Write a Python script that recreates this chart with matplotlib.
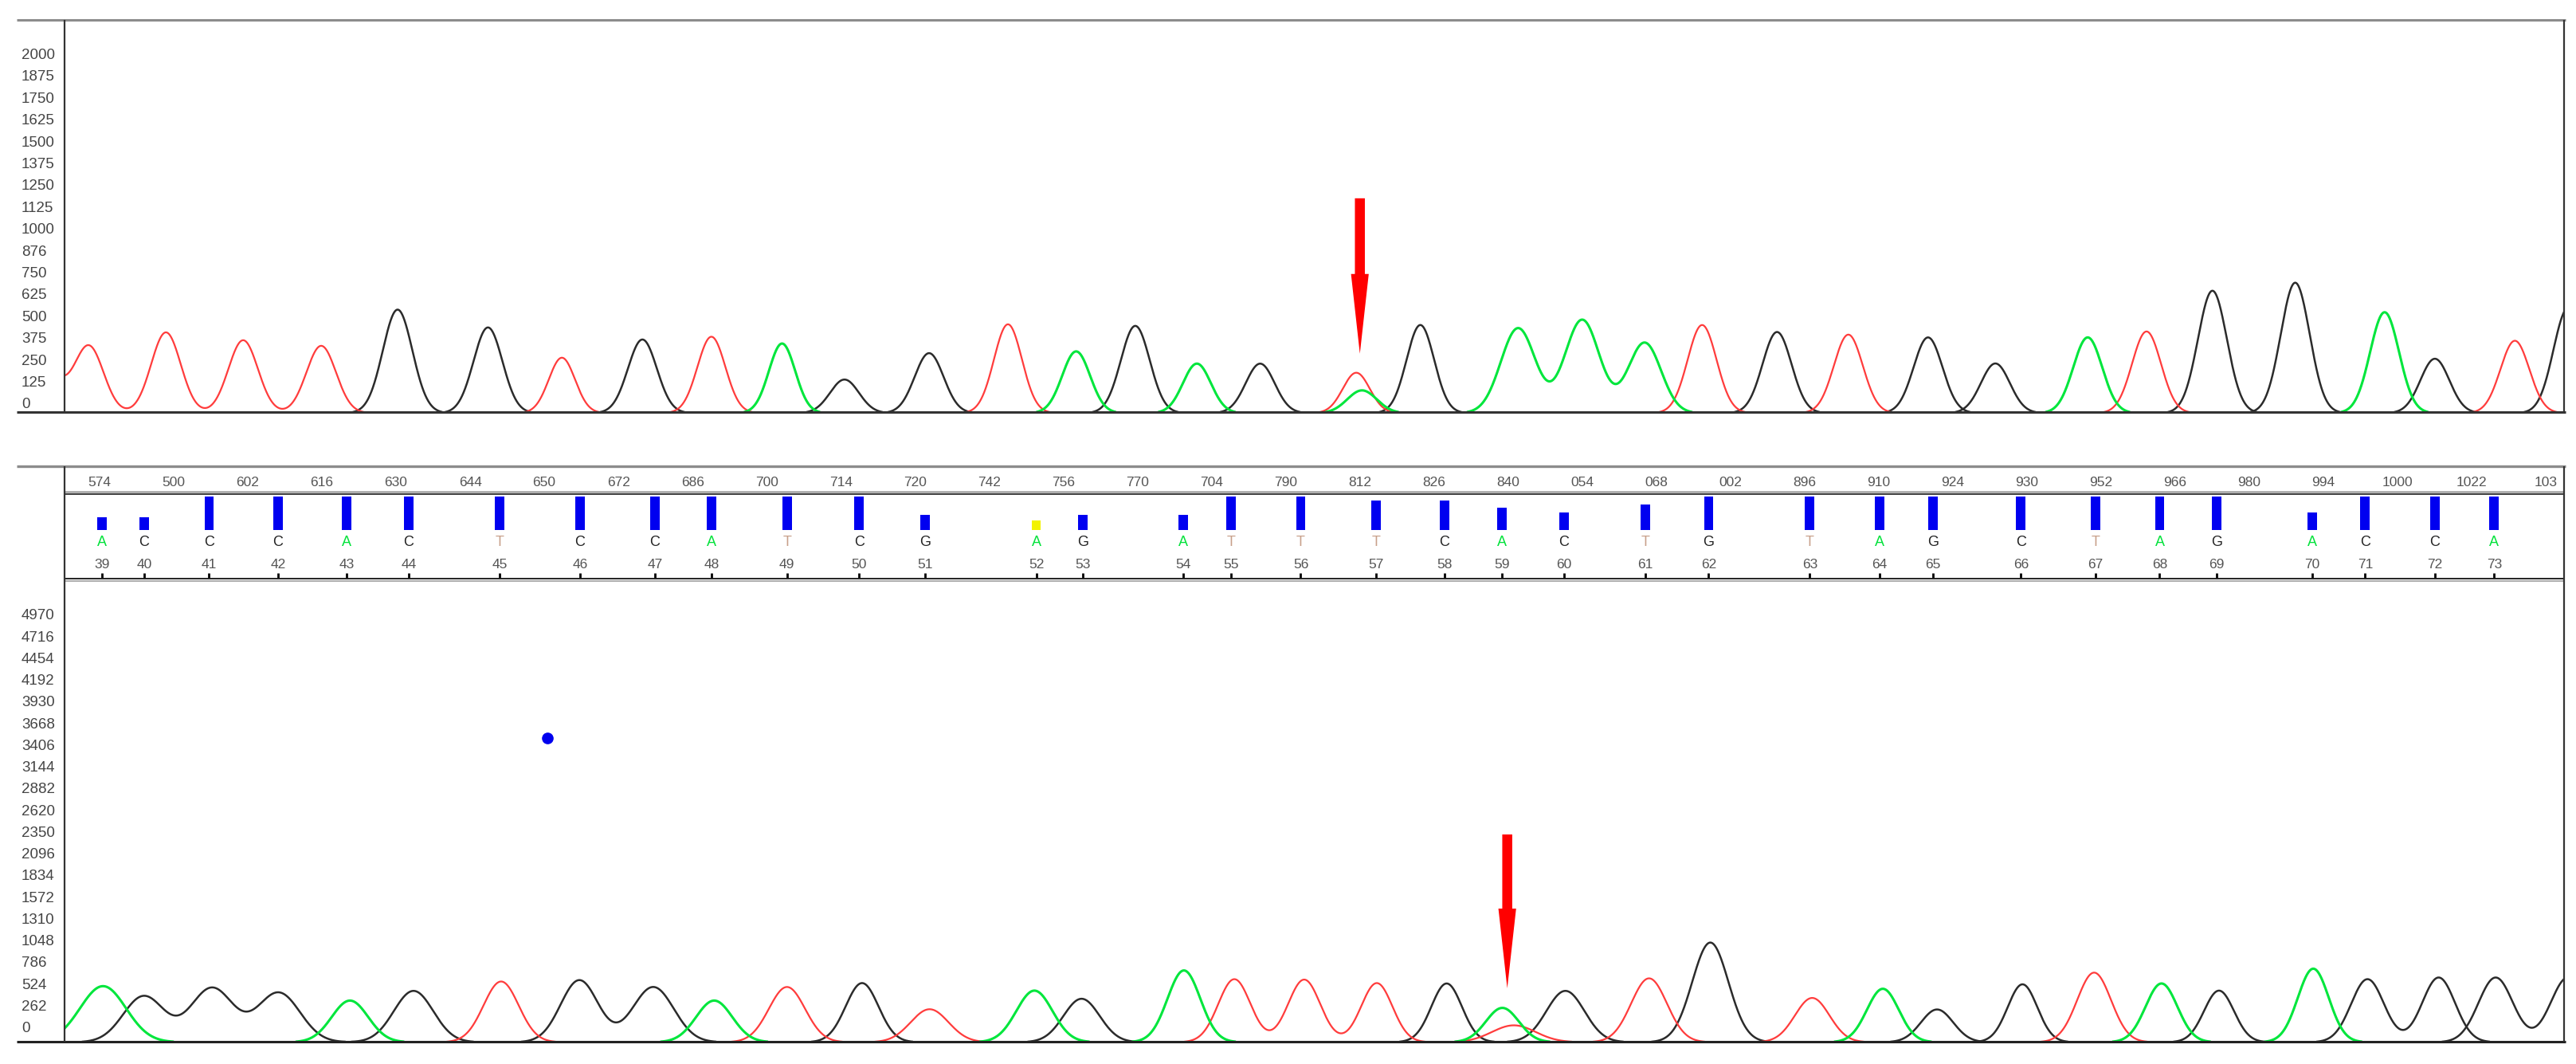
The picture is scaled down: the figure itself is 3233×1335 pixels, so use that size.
import numpy as np
import matplotlib
matplotlib.use("Agg")
import matplotlib.pyplot as plt
from matplotlib.lines import Line2D
from matplotlib.patches import FancyArrowPatch
from matplotlib import transforms

plt.rcParams['font.family'] = ['Liberation Sans', 'DejaVu Sans']

# ---- upper trace: peak positions (scan units), heights and widths ----
top_T_pos = [28, 54, 101, 148, 195.5, 342, 433, 613.5, 825.5, 1036, 1125, 1306.5, 1530.7]
top_T_amp = [250, 385, 462, 417, 385, 317, 437, 508, 231, 504, 449, 467, 414]
top_T_wid = [9, 9, 9, 9, 9, 8, 8.5, 8.5, 8.2, 8.8, 8.8, 8.8, 8.8]
top_A_pos = [476, 655, 728.5, 829, 924, 963, 1001, 1270.7, 1451.4]
top_A_amp = [398, 353, 283, 130, 486, 534, 403, 433, 577]
top_A_wid = [8, 8.5, 8.5, 9, 10.5, 10.5, 10, 8.8, 8.8]
top_C_pos = [242, 391, 565.5, 767, 1081.6, 1173.5, 1346.6, 1482]
top_C_amp = [592, 421, 343, 283, 464, 433, 700, 311]
top_C_wid = [9, 8.8, 8.8, 8.8, 8.8, 8.8, 8.8, 8.8]
top_G_pos = [297, 514, 691, 864.5, 1214.5, 1397, 1563]
top_G_amp = [490, 192, 499, 504, 284, 746, 600]
top_G_wid = [8.8, 8.8, 8.8, 8.4, 8.8, 8.8, 8.8]

# ---- lower trace ----
bot_T_pos = [305, 479, 565.8, 751.3, 793.8, 838, 921.4, 1003.7, 1103, 1274.6]
bot_T_amp = [731, 665, 397, 759, 754, 712, 203, 769, 533, 838]
bot_T_wid = [10.7, 11, 11.5, 9.8, 9.8, 9.5, 13.3, 10.9, 10.5, 10.3]
bot_A_pos = [62.7, 213, 434.7, 629.6, 720.6, 914.4, 1146, 1315.6, 1408]
bot_A_amp = [675, 501, 501, 621, 864, 413, 643, 707, 885]
bot_A_wid = [14, 11.1, 11, 11, 10, 10, 9.7, 9.7, 9.4]
bot_C_pos = [87.5, 129, 169.6, 251.7, 352.6, 397.6, 524.7, 880.5, 952.8, 1231, 1441, 1484.3]
bot_C_amp = [555, 653, 596, 618, 747, 665, 712, 707, 618, 697, 759, 779]
bot_C_wid = [12.5, 13, 13, 12, 11.4, 12.5, 10, 9.3, 11.6, 9, 10, 10]
bot_G_pos = [658.3, 1041, 1179, 1350.6, 1519, 1563]
bot_G_amp = [523, 1200, 394, 621, 779, 780]
bot_G_wid = [11, 11, 9.8, 9.1, 10.5, 10.5]

# ---- y axis labels ----
top_labels = ["0", "125", "250", "375", "500", "625", "750", "876", "1000", "1125",
              "1250", "1375", "1500", "1625", "1750", "1875", "2000"]
bot_labels = ["0", "262", "524", "786", "1048", "1310", "1572", "1834", "2096", "2350",
              "2620", "2882", "3144", "3406", "3668", "3930", "4192", "4454", "4716", "4970"]

# ---- base call strip ----
scan_labels = ["574", "500", "602", "616", "630", "644", "650", "672", "686", "700", "714",
               "720", "742", "756", "770", "704", "790", "812", "826", "840", "054", "068",
               "002", "896", "910", "924", "930", "952", "966", "980", "994", "1000", "1022", "103"]
call_index = list(range(39, 74))
call_base = list("ACCCACTCCATCGAGATTTCACTGTAGCTAGACCA")
call_pos = [62.3, 87.8, 127.3, 169.2, 211, 248.8, 304, 353, 398.6, 433.3, 479, 523,
            563, 630.7, 658.9, 720.2, 749.5, 791.7, 837.6, 879.1, 914.2, 952, 1001.3,
            1040, 1101.5, 1143.9, 1176.5, 1230.1, 1275.3, 1314.5, 1349.2, 1407.4,
            1439.6, 1482, 1518.1]
call_quality = [0.38, 0.38, 1, 1, 1, 1, 1, 1, 1, 1, 1, 1, 0.46, 0.28, 0.46, 0.46, 1, 1,
                0.88, 0.88, 0.66, 0.52, 0.76, 1, 1, 1, 1, 1, 1, 1, 1, 0.52, 1, 1, 1]
low_quality_calls = [52]

# ---- markers ----
top_arrow = (827.7, 1223, 334)     # x, tail, tip
bot_arrow = (917.4, 2496, 643)
dot_point = (333, 3655)

W, H = 3233, 1335
XL = (81 / 2.062, 3218 / 2.062)
base_colors = {"A": "#00e23a", "C": "#222222", "G": "#222222", "T": "#c8a08a"}
FLOOR = 6

fig = plt.figure(figsize=(W / 100, H / 100), dpi=100)


def fx(px):
    return px / W


def fy(py):
    return 1 - py / H


def hline(y, x0, x1, color, lw):
    fig.add_artist(Line2D([fx(x0), fx(x1)], [fy(y), fy(y)], color=color, lw=lw,
                          transform=fig.transFigure, solid_capstyle='butt'))


def vline(x, y0, y1, color, lw):
    fig.add_artist(Line2D([fx(x), fx(x)], [fy(y0), fy(y1)], color=color, lw=lw,
                          transform=fig.transFigure, solid_capstyle='butt'))


def panel(top, bottom):
    ax = fig.add_axes([fx(81), fy(bottom), fx(3218 - 81), (bottom - top) / H])
    ax.set_xlim(*XL)
    ax.axis('off')
    return ax


xs = np.linspace(0, 1600, 16001)


def draw_channel(ax, pos, amp, wid, color, lw):
    y = np.zeros_like(xs)
    for p, a, w in zip(pos, amp, wid):
        y += a * np.exp(-0.5 * ((xs - p) / w) ** 2)
    y = y - FLOOR
    up = y > 0
    keep = up | np.roll(up, 1) | np.roll(up, -1)
    y = np.where(keep, np.maximum(y, 0), np.nan)
    ax.plot(xs, y, color=color, lw=lw, solid_capstyle='butt')


def y_labels(ax, labels, step, offset_px):
    trans = transforms.blended_transform_factory(fig.transFigure, ax.transData) + \
        transforms.ScaledTranslation(0, offset_px / 100, fig.dpi_scale_trans)
    for i, s in enumerate(labels):
        ax.text(fx(27), i * step, s, transform=trans, ha='left', va='center',
                fontsize=13.5, color='#444444', clip_on=False)


def arrow(ax, spec):
    x, tail, tip = spec
    ax.add_patch(FancyArrowPatch((x, tail), (x, tip), mutation_scale=1, lw=0,
                                 arrowstyle="simple,head_length=72,head_width=16,tail_width=9",
                                 color='#ff0000', shrinkA=0, shrinkB=0, zorder=5))


# upper panel
ax1 = panel(25, 517)
ax1.set_ylim(0, 492 * 4.56)
draw_channel(ax1, top_C_pos, top_C_amp, top_C_wid, '#2b2b2b', 1.8)
draw_channel(ax1, top_G_pos, top_G_amp, top_G_wid, '#2b2b2b', 1.8)
draw_channel(ax1, top_T_pos, top_T_amp, top_T_wid, '#ff3c3c', 1.6)
draw_channel(ax1, top_A_pos, top_A_amp, top_A_wid, '#00e63c', 2.2)
y_labels(ax1, top_labels, 125, 9)
arrow(ax1, top_arrow)

# lower panel
ax3 = panel(727, 1307)
ax3.set_ylim(0, 580 * 9.6)
draw_channel(ax3, bot_C_pos, bot_C_amp, bot_C_wid, '#2b2b2b', 1.8)
draw_channel(ax3, bot_G_pos, bot_G_amp, bot_G_wid, '#2b2b2b', 1.8)
draw_channel(ax3, bot_T_pos, bot_T_amp, bot_T_wid, '#ff3c3c', 1.6)
draw_channel(ax3, bot_A_pos, bot_A_amp, bot_A_wid, '#00e63c', 2.2)
y_labels(ax3, bot_labels, 4970 / 19, 16.5)
arrow(ax3, bot_arrow)
ax3.plot([dot_point[0]], [dot_point[1]], 'o', color='#0000ee', ms=9.5)

# base call strip
ax2 = panel(585, 727)
ax2.set_ylim(0, 1)
step = (1549.3 - 60.6) / (len(scan_labels) - 1)
for i, s in enumerate(scan_labels):
    ax2.text(60.6 + i * step, 0.856, s, ha='center', va='center', fontsize=12.5,
             color='#555555')
bar_cols = ['#f2f200' if n in low_quality_calls else '#0000f0' for n in call_index]
ax2.bar(call_pos, [q * 0.293 for q in call_quality], bottom=0.437, width=5.8,
        color=bar_cols)
for p, b, n in zip(call_pos, call_base, call_index):
    ax2.text(p, 0.329, b, ha='center', va='center', fontsize=13, color=base_colors[b])
    ax2.text(p, 0.130, str(n), ha='center', va='center', fontsize=12.5, color='#555555')
ax2.vlines(call_pos, 0, 0.055, color='black', lw=2)

# frame lines
hline(25, 21, 3220, '#8c8c8c', 2.2)
hline(517, 21, 3220, '#333333', 2.2)
hline(585, 21, 3220, '#8c8c8c', 2.4)
hline(617, 81, 3218, '#aaaaaa', 2.0)
hline(620, 81, 3218, '#222222', 1.2)
hline(726, 81, 3218, '#222222', 1.4)
hline(729, 81, 3218, '#aaaaaa', 1.4)
hline(1307, 21, 3220, '#222222', 2.2)
vline(81, 25, 517, '#333333', 1.6)
vline(81, 585, 1307, '#333333', 1.6)
vline(3218, 25, 517, '#333333', 1.6)
vline(3218, 585, 1307, '#333333', 1.6)

fig.savefig("out.png", dpi=100)
